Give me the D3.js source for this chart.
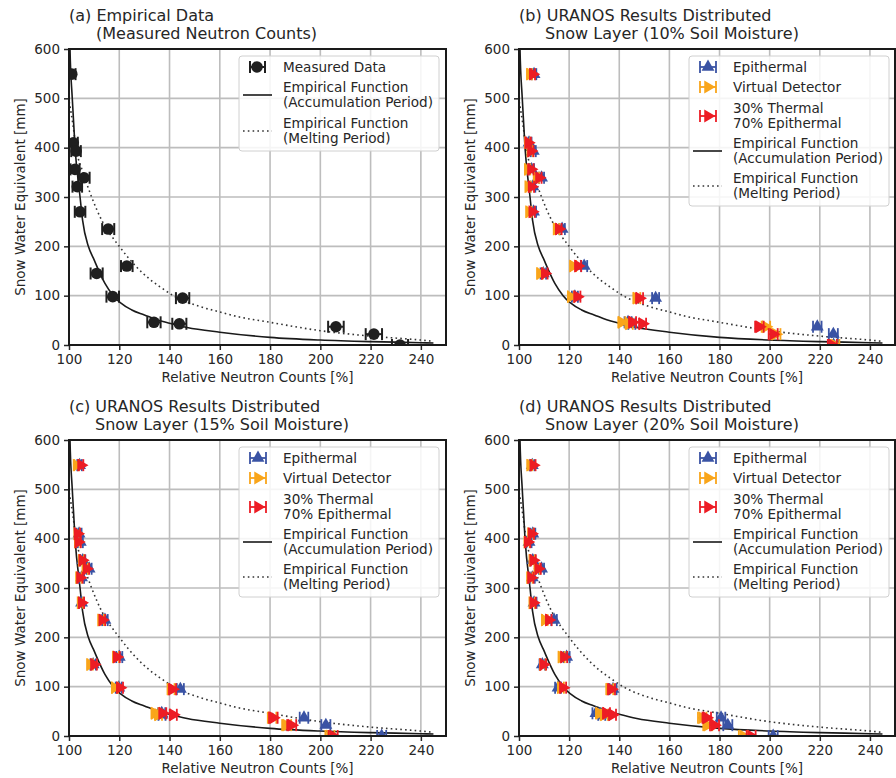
<!DOCTYPE html>
<html lang="en">
<head>
  <meta charset="UTF-8">
  <title>Snow Water Equivalent vs Relative Neutron Counts</title>
  <script src="https://d3js.org/d3.v7.min.js"></script>
  <style>
    body { margin: 0; background: #fff; font-family: "DejaVu Sans", sans-serif; }
    text { fill: #262626; }
    .tick-label { font-size: 13.5px; }
    .axis-label { font-size: 13.5px; }
    .title { font-size: 16px; }
    .legend-text { font-size: 13.6px; }
  </style>
</head>
<body>
  <svg width="896" height="778"></svg>

  <script>
    // SWE levels [mm] shared by all panels
    const swe = [549, 410, 393, 356, 339, 321, 270, 235, 160, 145, 98, 95, 46, 43, 37, 22, 0];

    // (a) measured relative neutron counts [%] and their errors
    const measured = [101.1, 101.7, 102.8, 102.4, 106, 103.3, 104.4, 115.6, 123, 111, 117.4, 145.2, 133.8, 143.9, 206.2, 221.3, 231.7];
    const measuredErr = [1.5, 1.8, 1.9, 1.8, 2.2, 1.9, 2.1, 2.4, 2.3, 2.4, 2.5, 2.65, 2.65, 2.8, 3.1, 3.25, 3.2];

    // URANOS results, error of simulated counts
    const simErr = [0.9, 1, 1, 1, 1, 1, 1, 1.1, 1.2, 1.1, 1.2, 1.4, 1.4, 1.4, 1.7, 1.8, 1.8];

    const epi10 = [106, 104, 105.7, 105, 109, 105.5, 105.8, 117.2, 126, 109.7, 122.3, 154.5, 143.5, 145, 219, 225.4, 225.5];
    const vd10  = [104.3, 103.5, 104.5, 103.5, 107, 103.7, 104, 115, 121.6, 108.4, 120.7, 147, 141, 144, 198.5, 202.5, 226];
    const mix10 = [105.5, 103.7, 104.8, 104.8, 108, 105, 105.3, 115.9, 123.6, 110.3, 123.3, 148.1, 145.3, 149.3, 195.9, 201.4, 225];

    const epi15 = [104.2, 104, 104.5, 105.5, 108, 105, 105, 114.3, 120, 109.6, 119.8, 144.3, 136.9, 137, 193.5, 202.2, 224.4];
    const vd15  = [103, 103.3, 103.5, 105, 106.5, 104, 104.6, 112.8, 118.7, 108.4, 118.3, 140.6, 134.2, 135.6, 180.8, 186.6, 203.8];
    const mix15 = [104.8, 103.4, 103.7, 105.3, 107, 104.4, 105, 113.3, 119, 110, 120.3, 141.2, 137.3, 141.5, 181.3, 188.6, 205.1];

    const epi20 = [105.3, 105.5, 104, 105.5, 109, 105.3, 106, 114, 119, 109.3, 115.6, 137.5, 130.7, 133, 180.6, 183.3, 201.4];
    const vd20  = [104.4, 104.8, 103.3, 105.3, 107.3, 104.4, 105.3, 110.3, 117, 109.5, 116.7, 136.2, 132.1, 134, 173.1, 175.3, 189.5];
    const mix20 = [105.7, 105, 103.5, 105.7, 107.7, 104.8, 105.7, 111.9, 118, 109.7, 117.6, 136.9, 134.9, 137.3, 174.9, 178, 192.6];

    // empirical functions
    const accN   = [100.2, 100.4, 101.3, 102.4, 104.4, 105.4, 107.7, 109.7, 114.3, 117.6, 125, 130, 135, 140, 147, 160, 180, 200, 220, 240, 245];
    const accSWE = [650, 600, 500, 400, 300, 253, 200, 176, 125, 100, 71, 61, 51, 44, 35.5, 26, 15.5, 10, 6.8, 4.7, 4];
    const meltN   = [100.1, 101.5, 102.8, 105.7, 109, 113, 120, 126.7, 132.2, 136.2, 142.2, 152, 160, 166.7, 180, 200, 220, 240, 245];
    const meltSWE = [493, 449, 400, 348, 300, 253, 200, 159, 133, 118, 98, 78, 67, 58, 46, 29, 18, 10, 7.5];

    const xTicks = [100, 120, 140, 160, 180, 200, 220, 240];
    const yTicks = [0, 100, 200, 300, 400, 500, 600];

    const colors = { epi: "#3a53a4", vd: "#f9a51a", mix: "#ed1c24", meas: "#1f1f1f" };

    const panels = [
      { left: 69, top: 49, width: 377, title: ["(a) Empirical Data", "(Measured Neutron Counts)"], measured: true },
      { left: 519, top: 49, width: 376, title: ["(b) URANOS Results Distributed", "Snow Layer (10% Soil Moisture)"], sims: [epi10, vd10, mix10] },
      { left: 69, top: 440, width: 377, title: ["(c) URANOS Results Distributed", "Snow Layer (15% Soil Moisture)"], sims: [epi15, vd15, mix15] },
      { left: 519, top: 440, width: 376, title: ["(d) URANOS Results Distributed", "Snow Layer (20% Soil Moisture)"], sims: [epi20, vd20, mix20] }
    ];
    const ph = 296;

    const svg = d3.select("svg");
    const triUp = d3.symbol().type(d3.symbolTriangle).size(72)();

    function errMark(g, cx, cy, x0, x1, color, cap, lw) {
      g.append("line").attr("x1", x0).attr("x2", x1).attr("y1", cy).attr("y2", cy)
        .attr("stroke", color).attr("stroke-width", lw);
      [x0, x1].forEach(xx => g.append("line").attr("x1", xx).attr("x2", xx)
        .attr("y1", cy - cap).attr("y2", cy + cap).attr("stroke", color).attr("stroke-width", lw));
    }

    function marker(g, kind, cx, cy) {
      if (kind === "meas") {
        g.append("circle").attr("cx", cx).attr("cy", cy).attr("r", 5.8).attr("fill", colors.meas);
      } else {
        const rot = kind === "epi" ? 0 : 90;
        g.append("path").attr("d", triUp)
          .attr("transform", `translate(${cx},${cy}) rotate(${rot})`)
          .attr("fill", colors[kind]);
      }
    }

    panels.forEach((p, pi) => {
      const g = svg.append("g").attr("transform", `translate(${p.left},${p.top})`);
      const x = d3.scaleLinear().domain([100, 250]).range([0, p.width]);
      const y = d3.scaleLinear().domain([0, 600]).range([ph, 0]);

      const clipId = "clip" + pi;
      g.append("clipPath").attr("id", clipId).append("rect").attr("width", p.width).attr("height", ph);

      // grid
      g.selectAll(".gx").data(xTicks).enter().append("line")
        .attr("x1", d => x(d)).attr("x2", d => x(d)).attr("y1", 0).attr("y2", ph)
        .attr("stroke", "#bdbdbd").attr("stroke-width", 1.6);
      g.selectAll(".gy").data(yTicks).enter().append("line")
        .attr("y1", d => y(d)).attr("y2", d => y(d)).attr("x1", 0).attr("x2", p.width)
        .attr("stroke", "#bdbdbd").attr("stroke-width", 1.6);

      // axes
      const ax = g.append("g").attr("transform", `translate(0,${ph})`)
        .call(d3.axisBottom(x).tickValues(xTicks).tickSize(5).tickPadding(4));
      const ay = g.append("g")
        .call(d3.axisLeft(y).tickValues(yTicks).tickSize(5).tickPadding(4));
      [ax, ay].forEach(a => {
        a.select(".domain").remove();
        a.selectAll(".tick line").attr("stroke", "#262626").attr("stroke-width", 1.5);
        a.selectAll(".tick text").attr("class", "tick-label").style("font-family", "DejaVu Sans").attr("fill", "#262626");
      });

      g.append("text").attr("class", "axis-label").attr("x", p.width / 2).attr("y", ph + 37)
        .attr("text-anchor", "middle").text("Relative Neutron Counts [%]");
      g.append("text").attr("class", "axis-label").attr("transform", "rotate(-90)")
        .attr("x", -ph / 2).attr("y", -44).attr("text-anchor", "middle")
        .text("Snow Water Equivalent [mm]");

      // title
      g.append("text").attr("class", "title").attr("x", 0).attr("y", -28).text(p.title[0]);
      g.append("text").attr("class", "title").attr("x", pi === 0 ? 27 : 26).attr("y", -10).text(p.title[1]);

      const plot = g.append("g").attr("clip-path", `url(#${clipId})`);

      // empirical functions
      const fnLine = d3.line().x(d => x(d[0])).y(d => y(d[1])).curve(d3.curveMonotoneX);
      plot.append("path").datum(d3.zip(meltN, meltSWE)).attr("d", fnLine)
        .attr("fill", "none").attr("stroke", "#333").attr("stroke-width", 1.6)
        .attr("stroke-dasharray", "1.6,3.2");
      plot.append("path").datum(d3.zip(accN, accSWE)).attr("d", fnLine)
        .attr("fill", "none").attr("stroke", "#1a1a1a").attr("stroke-width", 1.6);

      // points (clipped to the axes like the original)
      const pts = plot.append("g");
      if (p.measured) {
        swe.forEach((s, i) => {
          errMark(pts, x(measured[i]), y(s), x(measured[i] - measuredErr[i]), x(measured[i] + measuredErr[i]), colors.meas, 6, 2);
          marker(pts, "meas", x(measured[i]), y(s));
        });
      } else {
        ["epi", "vd", "mix"].forEach((k, si) => {
          const vals = p.sims[si];
          swe.forEach((s, i) => {
            errMark(pts, x(vals[i]), y(s), x(vals[i] - simErr[i]), x(vals[i] + simErr[i]), colors[k], 6, 1.8);
            marker(pts, k, x(vals[i]), y(s));
          });
        });
      }

      // frame
      g.append("rect").attr("width", p.width).attr("height", ph)
        .attr("fill", "none").attr("stroke", "#1a1a1a").attr("stroke-width", 2);

      // legend
      const lg = g.append("g").attr("transform", "translate(170,7)");
      if (p.measured) {
        lg.append("rect").attr("width", 200).attr("height", 95).attr("rx", 3)
          .attr("fill", "#fff").attr("fill-opacity", 0.85).attr("stroke", "#d0d0d0");
        errMark(lg, 18, 11, 11, 26, colors.meas, 6, 2);
        marker(lg, "meas", 18, 11);
        lg.append("text").attr("class", "legend-text").attr("x", 44).attr("y", 16).text("Measured Data");
        lg.append("line").attr("x1", 4).attr("x2", 33).attr("y1", 39).attr("y2", 39)
          .attr("stroke", "#1a1a1a").attr("stroke-width", 1.6);
        lg.append("text").attr("class", "legend-text").attr("x", 44).attr("y", 36).text("Empirical Function");
        lg.append("text").attr("class", "legend-text").attr("x", 44).attr("y", 51).text("(Accumulation Period)");
        lg.append("line").attr("x1", 4).attr("x2", 33).attr("y1", 75).attr("y2", 75)
          .attr("stroke", "#333").attr("stroke-width", 1.6).attr("stroke-dasharray", "1.6,3.2");
        lg.append("text").attr("class", "legend-text").attr("x", 44).attr("y", 71.5).text("Empirical Function");
        lg.append("text").attr("class", "legend-text").attr("x", 44).attr("y", 86.5).text("(Melting Period)");
      } else {
        lg.append("rect").attr("width", 200).attr("height", 150).attr("rx", 3)
          .attr("fill", "#fff").attr("fill-opacity", 0.85).attr("stroke", "#d0d0d0");
        const rows = [
          { k: "epi", y: 11, lines: ["Epithermal"] },
          { k: "vd", y: 31, lines: ["Virtual Detector"] },
          { k: "mix", y: 60, lines: ["30% Thermal", "70% Epithermal"] }
        ];
        rows.forEach(r => {
          errMark(lg, 19, r.y, 11, 27, colors[r.k], 6, 1.8);
          marker(lg, r.k, 19, r.y);
          r.lines.forEach((t, j) => lg.append("text").attr("class", "legend-text")
            .attr("x", 44).attr("y", (r.lines.length === 1 ? r.y + 5 : r.y - 3.5 + j * 15)).text(t));
        });
        lg.append("line").attr("x1", 4).attr("x2", 33).attr("y1", 95).attr("y2", 95)
          .attr("stroke", "#1a1a1a").attr("stroke-width", 1.6);
        lg.append("text").attr("class", "legend-text").attr("x", 44).attr("y", 91.5).text("Empirical Function");
        lg.append("text").attr("class", "legend-text").attr("x", 44).attr("y", 106.5).text("(Accumulation Period)");
        lg.append("line").attr("x1", 4).attr("x2", 33).attr("y1", 130).attr("y2", 130)
          .attr("stroke", "#333").attr("stroke-width", 1.6).attr("stroke-dasharray", "1.6,3.2");
        lg.append("text").attr("class", "legend-text").attr("x", 44).attr("y", 126.5).text("Empirical Function");
        lg.append("text").attr("class", "legend-text").attr("x", 44).attr("y", 141.5).text("(Melting Period)");
      }
    });
  </script>
</body>
</html>
